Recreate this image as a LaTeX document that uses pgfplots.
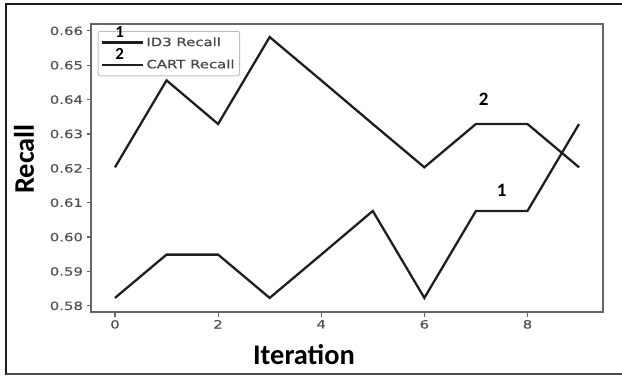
\documentclass[border=0pt]{standalone}
\usepackage{fontspec}
\setmainfont{DejaVu Sans}[FakeStretch=1.3, FakeBold=0.6]
\newfontfamily\carlito{Carlito}
\usepackage{pgfplots}
\pgfplotsset{compat=1.18}
\begin{document}
\begin{tikzpicture}[x=1bp,y=1bp]
\useasboundingbox (0,0) rectangle (622,375);
\draw[line width=2.2bp, black!90] (6,0) -- (6,371) -- (622,371);
\draw[line width=1.2bp, black!70] (6,1) -- (622,1);
\begin{axis}[
  at={(91bp,63bp)}, anchor=south west,
  scale only axis, width=512bp, height=288bp,
  xmin=-0.465, xmax=9.465, ymin=0.5782, ymax=0.6620,
  xtick={0,2,4,6,8},
  ytick={0.58,0.59,0.60,0.61,0.62,0.63,0.64,0.65,0.66},
  scaled y ticks=false,
  /pgf/number format/assume math mode=true,
  yticklabel style={/pgf/number format/fixed, /pgf/number format/fixed zerofill, /pgf/number format/precision=2},
  tick align=outside, major tick length=4.5bp,
  xtick pos=bottom, ytick pos=left,
  tick style={color=black!60, line width=1.2bp},
  axis line style={color=black!60, line width=1.6bp},
  tick label style={font=\fontsize{11.5}{12}\selectfont, text=black!68},
  xlabel={Iteration}, ylabel={Recall},
  xlabel style={at={(axis description cs:0.416,-0.149)}, anchor=center, font=\carlito\bfseries\fontsize{28.5}{28.5}\selectfont},
  ylabel style={at={(axis description cs:-0.131,0.531)}, anchor=center, rotate=0, font=\carlito\bfseries\fontsize{28.5}{28.5}\selectfont},
  legend style={at={(axis description cs:0.013,0.976)}, anchor=north west, draw=black!25, line width=1bp, rounded corners=2bp, font=\fontsize{11.5}{12}\selectfont, text=black!72, row sep=8bp, inner xsep=3bp, inner ysep=4bp},
  legend cell align=left,
]
\addplot[line width=2.3bp, color=black!88, legend image code/.code={\draw[line width=2.3bp, black!88] (0bp,0bp) -- (34bp,0bp); \path (0bp,0bp) -- (41bp,0bp); \node[overlay, font=\carlito\bfseries\fontsize{17}{17}\selectfont, inner sep=0pt, text=black] at (12bp,10bp) {1};}] coordinates {
(0,0.5823) (1,0.5949) (2,0.5949) (3,0.5823) (4,0.5949) (5,0.6076) (6,0.5823) (7,0.6076) (8,0.6076) (9,0.6329)};
\addlegendentry{ID3 Recall}
\addplot[line width=2.3bp, color=black!88, legend image code/.code={\draw[line width=2.3bp, black!88] (0bp,0bp) -- (34bp,0bp); \path (0bp,0bp) -- (41bp,0bp); \node[overlay, font=\carlito\bfseries\fontsize{17}{17}\selectfont, inner sep=0pt, text=black] at (12bp,10bp) {2};}] coordinates {
(0,0.6203) (1,0.6456) (2,0.6329) (3,0.6582) (4,0.6456) (5,0.6329) (6,0.6203) (7,0.6329) (8,0.6329) (9,0.6203)};
\addlegendentry{CART Recall}
\node[font=\carlito\bfseries\fontsize{19}{19}\selectfont] at (axis cs:7.15,0.6402) {2};
\node[font=\carlito\bfseries\fontsize{19}{19}\selectfont] at (axis cs:7.5,0.6136) {1};
\end{axis}
\end{tikzpicture}
\end{document}
